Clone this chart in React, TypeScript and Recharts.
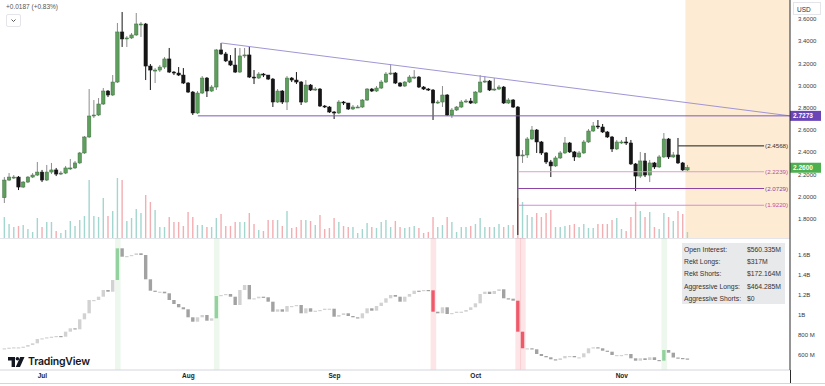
import React from "react";
import {
  ComposedChart,
  Bar,
  XAxis,
  YAxis,
  ReferenceLine,
  ReferenceArea,
} from "recharts";

// daily candles from 23 Jun, open = previous close
const START = Date.UTC(2025, 5, 23);
const DAY = 86400000;
const FIRST_OPEN = 1.99;
const CLOSES = [
  2.149, 2.176, 2.176, 2.086, 2.131, 2.176, 2.194, 2.221, 2.149, 2.221,
  2.24, 2.203, 2.212, 2.258, 2.258, 2.303, 2.393, 2.537, 2.726, 2.735,
  2.834, 2.951, 2.915, 3.032, 3.483, 3.42, 3.429, 3.456, 3.555, 3.555,
  3.176, 3.14, 3.14, 3.167, 3.24, 3.122, 3.113, 3.095, 3.023, 2.942,
  2.753, 2.933, 3.068, 2.951, 2.987, 3.321, 3.285, 3.222, 3.185, 3.122,
  3.267, 3.276, 3.077, 3.068, 3.104, 3.095, 3.059, 2.852, 2.951, 2.852,
  3.068, 3.05, 3.032, 2.852, 3.005, 2.96, 2.969, 2.816, 2.807, 2.762,
  2.753, 2.852, 2.843, 2.789, 2.807, 2.807, 2.87, 2.969, 2.951, 2.978,
  3.032, 3.104, 3.113, 3.023, 2.996, 3.032, 3.077, 3.077, 2.987, 2.969,
  2.96, 2.843, 2.852, 2.915, 2.735, 2.78, 2.807, 2.852, 2.861, 2.843,
  2.942, 3.032, 3.041, 2.96, 2.969, 2.987, 2.843, 2.87, 2.807, 2.366,
  2.375, 2.519, 2.6, 2.492, 2.393, 2.312, 2.276, 2.348, 2.393, 2.483,
  2.402, 2.357, 2.393, 2.492, 2.591, 2.636, 2.627, 2.582, 2.537, 2.429,
  2.492, 2.492, 2.483, 2.294, 2.185, 2.321, 2.194, 2.303, 2.267, 2.357,
  2.519, 2.357, 2.375, 2.303, 2.24, 2.26,
];
const HIGHS = [
  2.176, 2.212, 2.194, 2.185, 2.14, 2.185, 2.212, 2.312, 2.24, 2.285,
  2.303, 2.258, 2.23, 2.276, 2.339, 2.321, 2.402, 2.546, 2.969, 2.87,
  2.888, 2.978, 2.96, 3.095, 3.564, 3.663, 3.447, 3.474, 3.654, 3.573,
  3.564, 3.194, 3.158, 3.185, 3.257, 3.339, 3.131, 3.167, 3.158, 3.032,
  2.951, 2.951, 3.086, 3.077, 3.005, 3.33, 3.384, 3.303, 3.275, 3.339,
  3.339, 3.339, 3.348, 3.14, 3.122, 3.113, 3.095, 3.068, 2.969, 2.96,
  3.086, 3.077, 3.122, 3.041, 3.05, 3.014, 2.987, 2.978, 2.825, 2.816,
  2.771, 2.87, 2.861, 2.843, 2.825, 2.825, 2.879, 2.978, 2.978, 2.996,
  3.05, 3.122, 3.194, 3.122, 3.032, 3.041, 3.095, 3.14, 3.086, 2.996,
  2.978, 2.969, 2.87, 2.996, 2.924, 2.798, 2.816, 2.87, 2.879, 2.888,
  2.951, 3.095, 3.086, 3.05, 3.068, 3.005, 2.996, 2.888, 2.879, 2.816,
  2.42, 2.537, 2.636, 2.609, 2.501, 2.402, 2.33, 2.366, 2.411, 2.537,
  2.492, 2.411, 2.411, 2.51, 2.609, 2.672, 2.69, 2.654, 2.591, 2.546,
  2.51, 2.51, 2.537, 2.51, 2.303, 2.402, 2.393, 2.33, 2.312, 2.375,
  2.573, 2.528, 2.402, 2.528, 2.312, 2.285,
];
const LOWS = [
  1.942, 2.14, 2.158, 2.059, 2.077, 2.122, 2.167, 2.185, 2.131, 2.14,
  2.203, 2.185, 2.194, 2.203, 2.24, 2.249, 2.294, 2.384, 2.528, 2.708,
  2.726, 2.825, 2.897, 2.906, 3.023, 3.348, 3.348, 3.42, 3.447, 3.438,
  3.05, 2.96, 3.023, 3.122, 3.149, 3.113, 3.095, 3.086, 3.014, 2.933,
  2.735, 2.744, 2.924, 2.897, 2.942, 2.96, 3.276, 3.212, 3.176, 3.113,
  3.113, 3.248, 3.068, 3.014, 3.059, 3.077, 3.05, 2.807, 2.843, 2.834,
  2.78, 3.032, 3.014, 2.825, 2.843, 2.951, 2.951, 2.807, 2.798, 2.753,
  2.699, 2.744, 2.825, 2.78, 2.78, 2.798, 2.798, 2.861, 2.942, 2.942,
  2.969, 3.023, 3.095, 3.014, 2.987, 2.987, 3.023, 3.059, 2.978, 2.96,
  2.951, 2.69, 2.834, 2.807, 2.726, 2.708, 2.771, 2.798, 2.843, 2.834,
  2.834, 2.933, 3.023, 2.951, 2.951, 2.96, 2.834, 2.834, 2.798, 1.654,
  2.303, 2.348, 2.51, 2.393, 2.375, 2.294, 2.176, 2.267, 2.339, 2.384,
  2.393, 2.321, 2.348, 2.384, 2.483, 2.582, 2.609, 2.573, 2.528, 2.402,
  2.42, 2.474, 2.465, 2.285, 2.05, 2.167, 2.176, 2.131, 2.249, 2.258,
  2.348, 2.339, 2.348, 2.294, 2.231, 2.231,
];
// volume, millions
const VOLUMES = [
  210, 140, 110, 120, 130, 90, 60, 200, 110, 160,
  160, 70, 50, 80, 170, 120, 180, 220, 580, 220,
  210, 400, 220, 270, 600, 580, 170, 200, 290, 250,
  430, 360, 280, 110, 110, 210, 160, 160, 120, 260,
  210, 130, 130, 110, 110, 200, 240, 120, 120, 160,
  160, 160, 250, 140, 80, 70, 180, 180, 180, 120,
  270, 100, 110, 180, 180, 170, 130, 230, 90, 100,
  200, 160, 120, 110, 110, 50, 90, 150, 110, 100,
  160, 180, 110, 170, 110, 100, 110, 120, 100, 50,
  60, 210, 110, 130, 210, 160, 60, 110, 110, 120,
  140, 200, 110, 110, 110, 140, 110, 130, 130, 400,
  360, 230, 210, 250, 210, 250, 280, 110, 110, 120,
  130, 140, 110, 140, 100, 100, 140, 140, 140, 180,
  200, 90, 70, 210, 360, 270, 210, 260, 110, 90,
  250, 210, 170, 270, 240, 60,
];
// open interest, $M
const OI_FIRST_OPEN = 660;
const OI_CLOSES = [
  667, 673, 677, 677, 683, 700, 717, 760, 767, 777,
  783, 790, 783, 833, 867, 857, 957, 1017, 1150, 1150,
  1183, 1250, 1233, 1350, 1667, 1583, 1590, 1600, 1617, 1600,
  1357, 1243, 1233, 1233, 1217, 1150, 1110, 1077, 1057, 977,
  933, 977, 1000, 943, 967, 1190, 1200, 1210, 1183, 1100,
  1250, 1300, 1157, 1167, 1183, 1177, 1133, 1033, 1057, 1033,
  1090, 1090, 1100, 1017, 1067, 1033, 1043, 1050, 1063, 1063,
  983, 1000, 1017, 990, 977, 967, 1017, 1067, 1043, 1090,
  1123, 1167, 1200, 1183, 1133, 1183, 1210, 1243, 1240, 1250,
  1247, 1033, 1017, 1077, 1010, 1020, 1033, 1033, 1050, 1077,
  1117, 1210, 1233, 1210, 1240, 1257, 1167, 1163, 1143, 833,
  667, 667, 657, 610, 590, 577, 557, 550, 567, 590,
  590, 577, 577, 617, 667, 677, 667, 643, 633, 600,
  600, 600, 610, 567, 543, 567, 550, 577, 550, 543,
  650, 623, 575, 570, 565, 560,
];
const AGGRESSIVE_LONG_DAYS = [24, 45, 140];
const REKT_LONG_DAYS = [91, 109, 110];

const PRICE_TICKS = [1.8, 2.0, 2.2, 2.4, 2.6, 2.8, 3.0, 3.2, 3.4, 3.6];
const OI_TICKS = [600, 800, 1000, 1200, 1400, 1600];
const MONTHS = ["Jan", "Feb", "Mar", "Apr", "May", "Jun", "Jul", "Aug", "Sep", "Oct", "Nov", "Dec"];

const LAST_PRICE = 2.26;
const RESISTANCE = { from: 41, value: 2.7273 };
const TRENDLINE = { from: 46, start: 3.384, end: 2.7273 };
const SWING = { from: 143, value: 2.4568 };
const FIB_FROM = 109;
const FIB_LEVELS = [
  { value: 2.2239, line: "#d9a0d0", text: "#b4559f" },
  { value: 2.0729, line: "#8e44a3", text: "#8e44a3" },
  { value: 1.922, line: "#d98bd8", text: "#c24fa5" },
];
const LABEL_AT = 161.2;
const FUTURE_FROM = 144.5;
const STATS = [
  ["Open Interest:", "$560.335M"],
  ["Rekt Longs:", "$317M"],
  ["Rekt Shorts:", "$172.164M"],
  ["Aggressive Longs:", "$464.285M"],
  ["Aggressive Shorts:", "$0"],
];

const X_DOMAIN: [number, number] = [-1, 166.7];
const PRICE_DOMAIN: [number, number] = [1.627, 3.771];
const VOL_DOMAIN: [number, number] = [0, 2380];
const OI_DOMAIN: [number, number] = [450, 1770];

const FONT = "'Liberation Sans', Arial, sans-serif";

const rows = CLOSES.map((close, i) => {
  const open = i === 0 ? FIRST_OPEN : CLOSES[i - 1];
  const oiOpen = i === 0 ? OI_FIRST_OPEN : OI_CLOSES[i - 1];
  const oiClose = OI_CLOSES[i];
  let oiColor = oiClose >= oiOpen ? "#d2d2d2" : "#a2a2a2";
  if (AGGRESSIVE_LONG_DAYS.includes(i)) oiColor = "#93d29f";
  if (REKT_LONG_DAYS.includes(i)) oiColor = "#ef5a6a";
  return {
    i,
    open,
    close,
    high: Math.max(HIGHS[i], open, close),
    low: Math.min(LOWS[i], open, close),
    up: close >= open,
    vol: VOLUMES[i],
    oiLo: Math.min(oiOpen, oiClose),
    oiHi: Math.max(oiOpen, oiClose),
    oiColor,
  };
});

const monthTicks = rows
  .filter((r) => new Date(START + r.i * DAY).getUTCDate() === 1)
  .map((r) => r.i);

function Candle(props: any) {
  const { x, y, width, height, payload } = props;
  const top = Math.min(y, y + height);
  const h = Math.abs(height);
  const span = payload.high - payload.low || 1;
  const py = (v: number) => top + ((payload.high - v) / span) * h;
  const cx = x + width / 2;
  const bTop = py(Math.max(payload.open, payload.close));
  const bh = Math.max(py(Math.min(payload.open, payload.close)) - bTop, 1);
  return (
    <g>
      <line x1={cx} x2={cx} y1={top} y2={top + h} stroke={payload.up ? "#8c8c8c" : "#151515"} strokeWidth={1} />
      <rect
        x={cx - 1.7}
        y={bTop}
        width={3.4}
        height={bh}
        fill={payload.up ? "#5e9f5e" : "#151515"}
        stroke={payload.up ? "#3f6f3f" : "#151515"}
        strokeWidth={0.5}
      />
    </g>
  );
}

function VolBar(props: any) {
  const { x, y, width, height, payload } = props;
  const top = Math.min(y, y + height);
  return (
    <rect
      x={x + width / 2 - 0.7}
      y={top}
      width={1.4}
      height={Math.abs(height)}
      fill={payload.up ? "#a3d6cf" : "#f3aeb2"}
    />
  );
}

function OiCandle(props: any) {
  const { x, y, width, height, payload } = props;
  const top = Math.min(y, y + height);
  return (
    <rect x={x + width / 2 - 1.7} y={top} width={3.4} height={Math.max(Math.abs(height), 1.2)} fill={payload.oiColor} />
  );
}

const axisBox = (value: number, fill: string) => (p: any) => {
  const vb = p.viewBox;
  const x = vb.x + vb.width;
  return (
    <g>
      <rect x={x} y={vb.y - 5} width={31} height={10} fill={fill} />
      <text x={x + 3} y={vb.y + 2.4} fontSize={6.5} fontFamily={FONT} fontWeight={700} fill="#fff">
        {value.toFixed(4)}
      </text>
    </g>
  );
};

const sideLabel = (value: number, fill: string) => (p: any) => {
  const vb = p.viewBox;
  return (
    <text x={vb.x + vb.width + 1} y={vb.y + 2.2} fontSize={6.2} fontFamily={FONT} fill={fill}>
      ({value.toFixed(4)})
    </text>
  );
};

export default function App() {
  return (
    <div style={{ position: "absolute", left: 0, top: 0, width: 825, height: 386, background: "#fff", overflow: "hidden", fontFamily: FONT }}>
      {/* top pane: volume + future zone underlay */}
      <div style={{ position: "absolute", left: 0, top: 0 }}>
        <ComposedChart width={825} height={238} data={rows} margin={{ top: 0, right: 35, bottom: 0, left: 0 }}>
          <XAxis dataKey="i" type="number" domain={X_DOMAIN} allowDataOverflow hide />
          <YAxis yAxisId="vol" domain={VOL_DOMAIN} allowDataOverflow hide />
          <ReferenceArea yAxisId="vol" x1={FUTURE_FROM} x2={X_DOMAIN[1]} fill="#fdebd3" fillOpacity={1} stroke="none" ifOverflow="hidden" />
          <Bar yAxisId="vol" dataKey="vol" barSize={2} shape={VolBar} isAnimationActive={false} />
        </ComposedChart>
      </div>

      {/* top pane: candles and drawings */}
      <div style={{ position: "absolute", left: 0, top: 0 }}>
        <ComposedChart width={825} height={238} data={rows} margin={{ top: 0, right: 0, bottom: 0, left: 0 }}>
          <XAxis dataKey="i" type="number" domain={X_DOMAIN} allowDataOverflow hide />
          <YAxis
            orientation="right"
            domain={PRICE_DOMAIN}
            allowDataOverflow
            ticks={PRICE_TICKS}
            interval={0}
            width={35}
            tickLine={false}
            axisLine={{ stroke: "#2b2b2b" }}
            tickFormatter={(v: number) => v.toFixed(4)}
            tick={{ fontSize: 6, fill: "#3a3a3a", fontFamily: FONT }}
          />
          <Bar dataKey={(d: any) => [d.low, d.high]} barSize={4} shape={Candle} isAnimationActive={false} />
          <ReferenceLine
            segment={[{ x: TRENDLINE.from, y: TRENDLINE.start }, { x: X_DOMAIN[1], y: TRENDLINE.end }]}
            stroke="#a195d6"
            strokeWidth={1}
            ifOverflow="visible"
          />
          <ReferenceLine
            segment={[{ x: RESISTANCE.from, y: RESISTANCE.value }, { x: X_DOMAIN[1], y: RESISTANCE.value }]}
            stroke="#7a5bbd"
            strokeWidth={1}
            ifOverflow="visible"
            label={axisBox(RESISTANCE.value, "#6a45b8")}
          />
          <ReferenceLine
            segment={[{ x: SWING.from, y: SWING.value }, { x: LABEL_AT, y: SWING.value }]}
            stroke="#1a1a1a"
            strokeWidth={1}
            ifOverflow="visible"
            label={sideLabel(SWING.value, "#333")}
          />
          {FIB_LEVELS.map((f) => (
            <ReferenceLine
              key={f.value}
              segment={[{ x: FIB_FROM, y: f.value }, { x: LABEL_AT, y: f.value }]}
              stroke={f.line}
              strokeWidth={1}
              ifOverflow="visible"
              label={sideLabel(f.value, f.text)}
            />
          ))}
          <ReferenceLine y={LAST_PRICE} stroke="none" ifOverflow="visible" label={axisBox(LAST_PRICE, "#4caf50")} />
        </ComposedChart>
      </div>

      {/* bottom pane: open interest */}
      <div style={{ position: "absolute", left: 0, top: 238, borderTop: "1px solid #e3e5ea", width: 790 }} />
      <div style={{ position: "absolute", left: 0, top: 238 }}>
        <ComposedChart width={825} height={148} data={rows} margin={{ top: 0, right: 0, bottom: 0, left: 0 }}>
          <XAxis
            dataKey="i"
            type="number"
            domain={X_DOMAIN}
            allowDataOverflow
            ticks={monthTicks}
            interval={0}
            height={16}
            tickLine={false}
            tickSize={0}
            tickMargin={3}
            axisLine={{ stroke: "#d4d6dc" }}
            tickFormatter={(i: number) => MONTHS[new Date(START + i * DAY).getUTCMonth()]}
            tick={{ fontSize: 6.5, fill: "#222", fontFamily: FONT, fontWeight: 700 }}
          />
          <YAxis
            orientation="right"
            domain={OI_DOMAIN}
            allowDataOverflow
            ticks={OI_TICKS}
            interval={0}
            width={35}
            tickLine={false}
            axisLine={{ stroke: "#2b2b2b" }}
            tickFormatter={(v: number) => (v >= 1000 ? `${v / 1000}B` : `${v}\u00a0M`)}
            tick={{ fontSize: 6, fill: "#3a3a3a", fontFamily: FONT, width: 60 }}
          />
          {AGGRESSIVE_LONG_DAYS.map((d) => (
            <ReferenceArea key={"g" + d} x1={d - 0.6} x2={d + 0.6} fill="#4caf50" fillOpacity={0.1} stroke="none" />
          ))}
          {REKT_LONG_DAYS.map((d) => (
            <ReferenceArea key={"r" + d} x1={d - 0.6} x2={d + 0.6} fill="#f23645" fillOpacity={0.13} stroke="none" />
          ))}
          <Bar dataKey={(d: any) => [d.oiLo, d.oiHi]} barSize={4} shape={OiCandle} isAnimationActive={false} />
        </ComposedChart>
      </div>

      {/* frame bits */}
      <div style={{ position: "absolute", left: 790, top: 370, width: 1, height: 13, background: "#2b2b2b" }} />
      <div style={{ position: "absolute", left: 0, top: 383, width: 825, borderTop: "1px solid #d4d6dc" }} />

      {/* legend, top left */}
      <div style={{ position: "absolute", left: 6, top: 3, fontSize: 6.5, color: "#555" }}>+0.0187 (+0.83%)</div>
      <div style={{ position: "absolute", left: 6, top: 14, width: 13, height: 11, border: "1px solid #e3e5ea", borderRadius: 2, background: "#fff" }}>
        <svg width={13} height={11} style={{ position: "absolute", left: 0, top: 0 }}>
          <polyline points="4.5,4.5 6.5,6.5 8.5,4.5" fill="none" stroke="#444" strokeWidth={0.9} />
        </svg>
      </div>

      {/* currency box */}
      <div style={{ position: "absolute", left: 793, top: 2, width: 28, height: 13, border: "1px solid #e3e5ea", background: "#fff", fontSize: 6.5, color: "#333", lineHeight: "13px", paddingLeft: 3, boxSizing: "border-box" }}>
        USD
      </div>

      {/* stats box */}
      <div style={{ position: "absolute", left: 682, top: 243, width: 103, height: 61, background: "#e8e9eb", fontSize: 6.8, color: "#333" }}>
        {STATS.map(([k, v], n) => (
          <div key={k} style={{ position: "absolute", left: 2, top: 1 + n * 12.2, height: 12, lineHeight: "12px", width: 100 }}>
            <span>{k}</span>
            <span style={{ position: "absolute", left: 63 }}>{v}</span>
          </div>
        ))}
      </div>

      {/* logo */}
      <div style={{ position: "absolute", left: 8, top: 355, display: "flex", alignItems: "center" }}>
        <svg width={17} height={10} style={{ marginRight: 3 }}>
          <path d="M0 0 H7 V10 H3.6 V3.4 H0 Z" fill="#131722" />
          <circle cx={9.4} cy={1.8} r={1.8} fill="#131722" />
          <path d="M12.2 0 H16.5 L12 10 H7.7 Z" fill="#131722" />
        </svg>
        <span style={{ fontFamily: "Inter, sans-serif", fontWeight: 600, fontSize: 10.5, color: "#131722", letterSpacing: -0.2 }}>
          TradingView
        </span>
      </div>
    </div>
  );
}
